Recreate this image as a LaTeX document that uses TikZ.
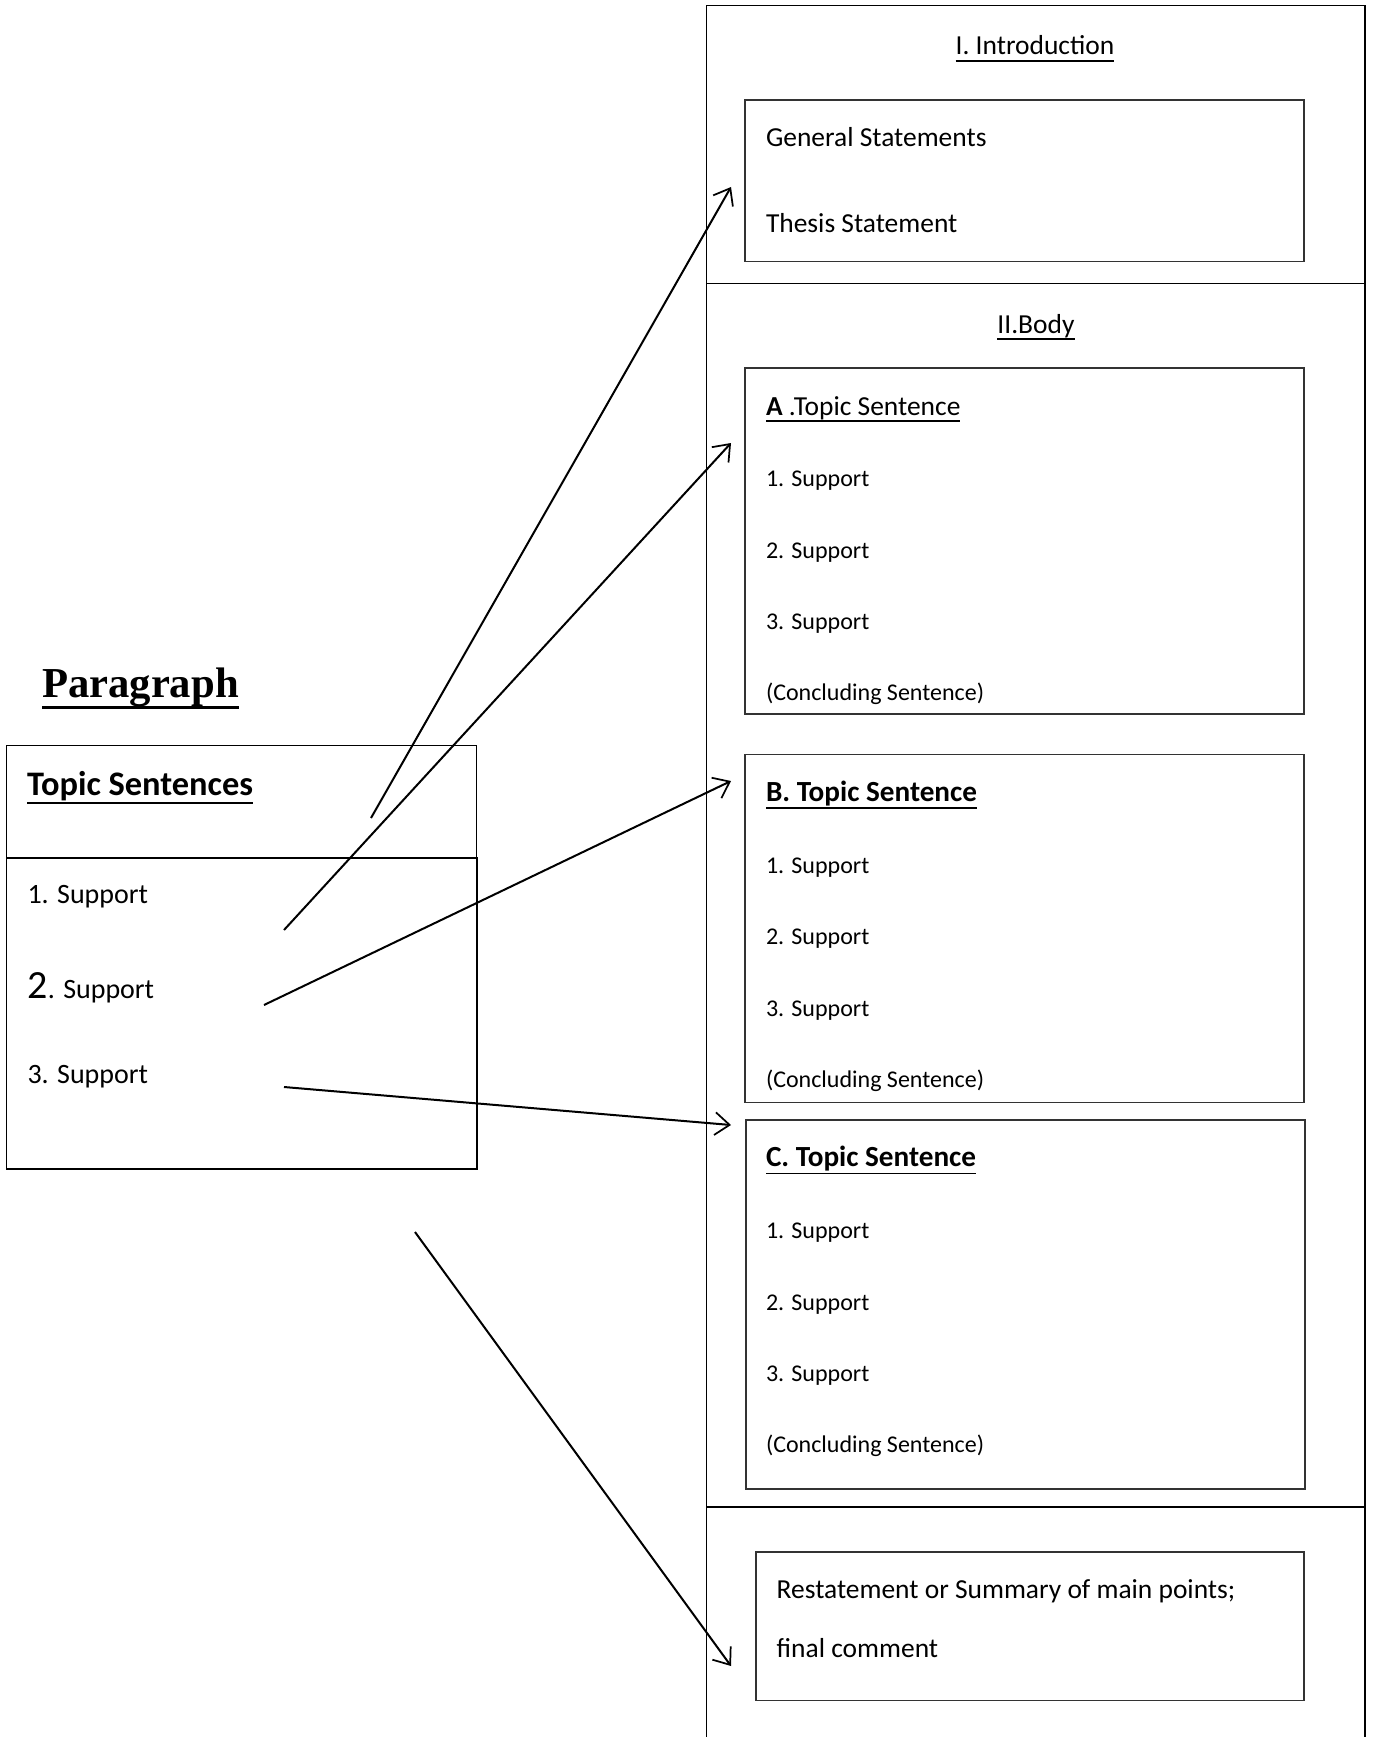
\documentclass[tikz,border=0pt]{standalone}
\usepackage{fontspec}
\setmainfont{Carlito}
\newfontfamily\serifbold{Liberation Serif}
\newcommand\myul[2][1.2pt]{\leavevmode\setbox0=\hbox{#2}\rlap{\copy0}\rule[\dimexpr-0.2em-#1\relax]{\wd0}{#1}}
\usetikzlibrary{arrows.meta}
\begin{document}
\begin{tikzpicture}[x=0.75pt,y=-0.75pt,
  frame/.style={draw=black, line width=0.9pt},
  inbox/.style={draw=black!80, line width=0.9pt},
  tx/.style={anchor=base west, inner sep=0pt, outer sep=0pt},
  ttl/.style={anchor=base, inner sep=0pt, outer sep=0pt, font=\fontsize{20.6pt}{24pt}\selectfont},
  big/.style={tx, font=\fontsize{20.6pt}{24pt}\selectfont},
  sup/.style={tx, font=\fontsize{18pt}{21pt}\selectfont},
  bttl/.style={tx, font=\fontsize{21.9pt}{25pt}\selectfont\bfseries},
  lsup/.style={tx, font=\fontsize{21pt}{25pt}\selectfont},
  conn/.style={line width=1.5pt, -{Straight Barb[length=11pt,width=17pt,line width=1.3pt]}}]
\useasboundingbox (0,0) rectangle (1374,1737);

% right column
\draw[frame] (706.7,5.5) rectangle (1365,283.3);
\draw[frame] (706.7,283.3) rectangle (1365,1507);
\draw[frame] (706.7,1737) -- (706.7,1507) -- (1365,1507) -- (1365,1737);

% introduction
\node[ttl] (intro) at (1035,55) {\myul{I. Introduction}};
\draw[inbox] (745,100) rectangle (1304,261.5);
\node[big] (gen) at (766,146.7) {General Statements};
\node[big] (thesis) at (766,233) {Thesis Statement};

% body
\node[ttl] (body) at (1036,333) {\myul{II.Body}};

\draw[inbox] (745,368) rectangle (1304,714);
\node[big] (ta) at (766,415) {\myul{\textbf{A} .Topic Sentence}};
\node[sup] (a1) at (766,486.7) {1. Support};
\node[sup] (a2) at (766,558) {2. Support};
\node[sup] (a3) at (766,629) {3. Support};
\node[sup] (ac) at (766,700) {(Concluding Sentence)};

\draw[inbox] (745,754.5) rectangle (1304,1102.5);
\node[bttl] (tb) at (766,801.5) {\myul{B. Topic Sentence}};
\node[sup] (b1) at (766,873) {1. Support};
\node[sup] (b2) at (766,944.5) {2. Support};
\node[sup] (b3) at (766,1016) {3. Support};
\node[sup] (bc) at (766,1087) {(Concluding Sentence)};

\draw[inbox] (746,1120) rectangle (1305,1489);
\node[bttl] (tc) at (766,1166.7) {\myul{C. Topic Sentence}};
\node[sup] (c1) at (766,1238.5) {1. Support};
\node[sup] (c2) at (766,1310) {2. Support};
\node[sup] (c3) at (766,1381) {3. Support};
\node[sup] (cc) at (766,1452) {(Concluding Sentence)};

% conclusion
\draw[inbox] (756,1552) rectangle (1304,1700.7);
\node[big] (rest) at (776.7,1598) {Restatement or Summary of main points;};
\node[big] (fin) at (776.7,1657) {final comment};

% paragraph
\node[tx] (ptitle) at (42,697) {\serifbold\bfseries\fontsize{32pt}{34pt}\selectfont\myul[2.4pt]{Paragraph}};
\draw[frame] (6.7,745.7) rectangle (476.7,858);
\draw[frame] (6.7,858) rectangle (477,1169);
\node[tx, font=\fontsize{25.8pt}{28pt}\selectfont\bfseries] (tops) at (27,795.5) {\myul{Topic Sentences}};
\node[lsup] (s1) at (27.5,903) {1. Support};
\node[lsup] (s2) at (27.5,998) {{\fontsize{30pt}{32pt}\selectfont 2}. Support};
\node[lsup] (s3) at (27.5,1083) {3. Support};

% connectors
\coordinate (p1s) at (371,818);  \coordinate (p1e) at (731,187);
\coordinate (p2s) at (284,930);  \coordinate (p2e) at (731,443);
\coordinate (p3s) at (264,1005); \coordinate (p3e) at (731,781);
\coordinate (p4s) at (284,1087); \coordinate (p4e) at (731,1125);
\coordinate (p5s) at (415,1232); \coordinate (p5e) at (731,1666);
\draw[conn] (p1s) -- (p1e);
\draw[conn] (p2s) -- (p2e);
\draw[conn] (p3s) -- (p3e);
\draw[conn] (p4s) -- (p4e);
\draw[conn] (p5s) -- (p5e);
\end{tikzpicture}
\end{document}
